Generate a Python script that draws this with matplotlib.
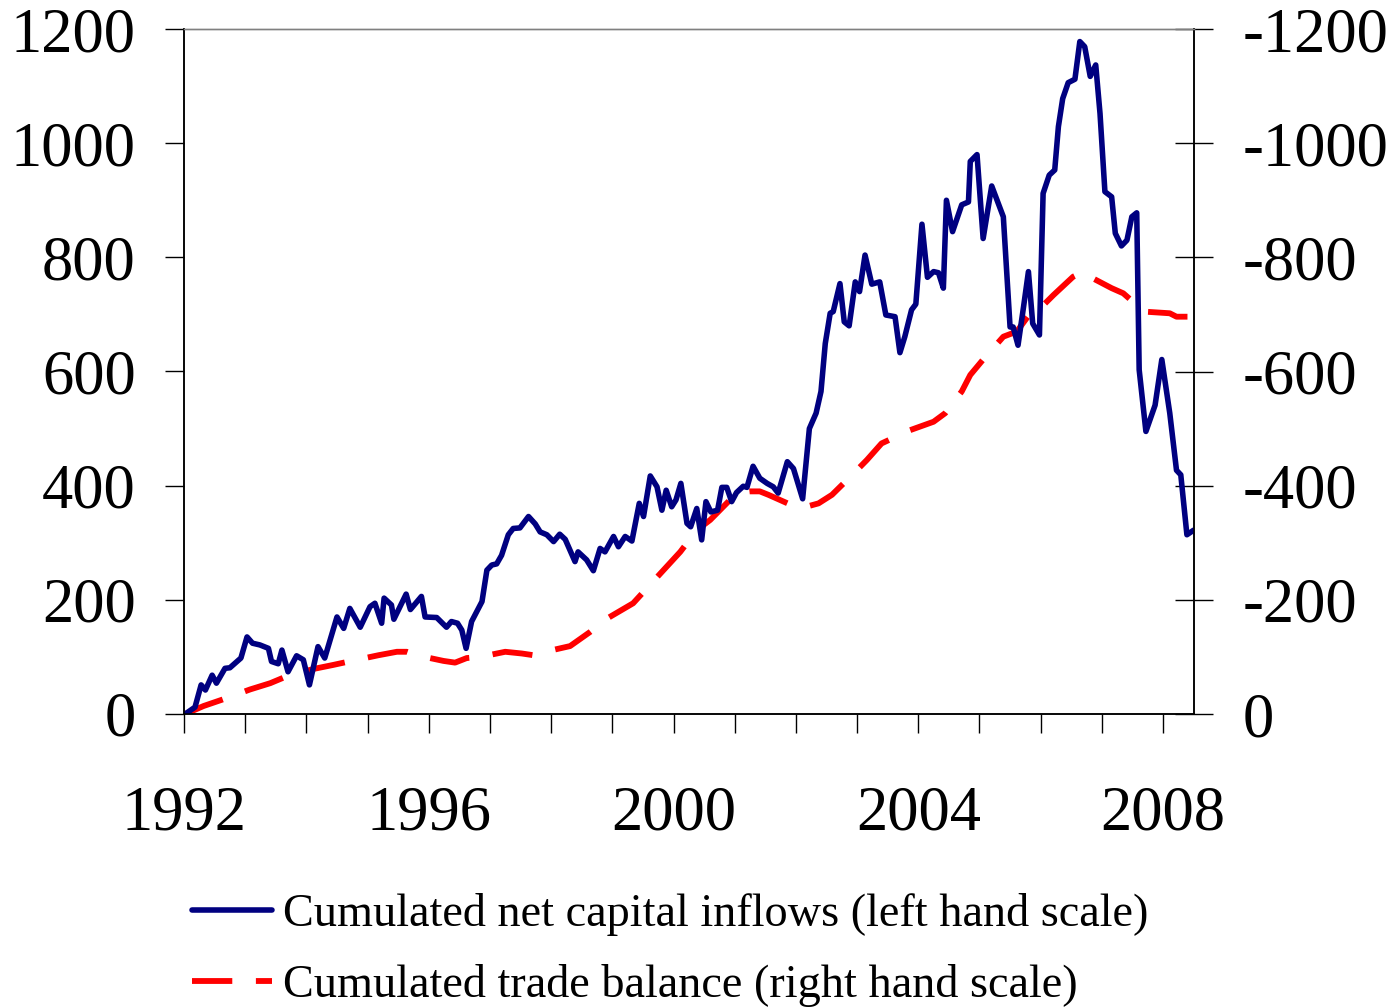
import matplotlib
matplotlib.use("Agg")
from matplotlib import pyplot as plt

plt.rcParams['font.family'] = ['Liberation Serif', 'DejaVu Serif']
plt.rcParams['axes.unicode_minus'] = False
plt.rcParams['lines.scale_dashes'] = False

# cumulated net capital inflows (left scale), decimal year / value
inflow_year = [1992.02, 1992.18, 1992.28, 1992.35, 1992.46, 1992.53, 1992.67, 1992.75, 1992.93,
               1993.03, 1993.12, 1993.24, 1993.38, 1993.43, 1993.54, 1993.60, 1993.70, 1993.84,
               1993.95, 1994.05, 1994.19, 1994.30, 1994.50, 1994.61, 1994.71, 1994.88, 1995.04,
               1995.12, 1995.23, 1995.27, 1995.39, 1995.43, 1995.63, 1995.70, 1995.88, 1995.94,
               1996.13, 1996.29, 1996.37, 1996.47, 1996.54, 1996.61, 1996.70, 1996.87, 1996.95,
               1997.03, 1997.11, 1997.19, 1997.30, 1997.38, 1997.49, 1997.63, 1997.74, 1997.82,
               1997.93, 1998.04, 1998.14, 1998.23, 1998.39, 1998.44, 1998.58, 1998.69, 1998.80,
               1998.88, 1999.02, 1999.10, 1999.21, 1999.32, 1999.44, 1999.51, 1999.62, 1999.73,
               1999.81, 1999.88, 1999.97, 2000.04, 2000.12, 2000.22, 2000.28, 2000.38, 2000.46,
               2000.53, 2000.61, 2000.72, 2000.79, 2000.87, 2000.95, 2001.03, 2001.14, 2001.20,
               2001.30, 2001.41, 2001.53, 2001.63, 2001.71, 2001.86, 2001.96, 2002.11, 2002.22,
               2002.33, 2002.41, 2002.48, 2002.56, 2002.61, 2002.72, 2002.79, 2002.87, 2002.97,
               2003.04, 2003.13, 2003.24, 2003.37, 2003.47, 2003.62, 2003.70, 2003.78, 2003.89,
               2003.96, 2004.06, 2004.15, 2004.25, 2004.33, 2004.41, 2004.46, 2004.56, 2004.71,
               2004.82, 2004.85, 2004.96, 2005.06, 2005.20, 2005.39, 2005.50, 2005.55, 2005.63,
               2005.72, 2005.80, 2005.87, 2005.98, 2006.04, 2006.14, 2006.23, 2006.29, 2006.36,
               2006.45, 2006.56, 2006.64, 2006.72, 2006.81, 2006.90, 2006.97, 2007.05, 2007.16,
               2007.22, 2007.32, 2007.41, 2007.49, 2007.57, 2007.61, 2007.72, 2007.87, 2007.98,
               2008.11, 2008.22, 2008.29, 2008.39, 2008.50]
inflow = [0, 12, 51, 42, 68, 54, 80, 81, 98,
          135, 124, 121, 115, 92, 88, 112, 74, 102,
          95, 51, 118, 98, 170, 150, 185, 152, 188,
          194, 159, 203, 191, 166, 210, 183, 206, 170,
          169, 152, 162, 159, 147, 115, 162, 197, 252,
          261, 263, 278, 314, 325, 326, 346, 333, 319,
          314, 302, 315, 306, 267, 284, 270, 251, 290,
          284, 311, 293, 311, 303, 369, 346, 417, 398,
          357, 392, 363, 375, 404, 334, 328, 360, 305,
          372, 354, 357, 397, 397, 372, 388, 399, 397,
          434, 413, 404, 398, 387, 442, 430, 377, 500,
          527, 565, 649, 702, 705, 754, 687, 680, 757,
          740, 804, 753, 757, 699, 696, 633, 661, 708,
          718, 858, 765, 775, 773, 746, 900, 845, 892,
          897, 968, 980, 833, 925, 871, 678, 678, 646,
          713, 775, 684, 664, 912, 944, 953, 1029, 1078,
          1106, 1112, 1178, 1169, 1117, 1137, 1052, 915, 906,
          842, 820, 830, 871, 878, 603, 495, 541, 621,
          527, 427, 419, 314, 322]

# cumulated trade balance (right scale, negative)
trade_year = [1992.02, 1992.32, 1992.62, 1993.08, 1993.41, 1993.70, 1994.12, 1994.44, 1994.74,
              1995.18, 1995.48, 1995.64, 1995.80, 1996.24, 1996.43, 1996.62, 1996.84, 1997.25,
              1997.52, 1997.71, 1997.90, 1998.31, 1998.64, 1998.91, 1999.34, 1999.81, 2000.11,
              2000.38, 2000.60, 2000.95, 2001.09, 2001.25, 2001.41, 2001.55, 2001.99, 2002.20,
              2002.37, 2002.59, 2002.94, 2003.16, 2003.40, 2003.86, 2004.25, 2004.44, 2004.71,
              2004.85, 2005.06, 2005.39, 2005.61, 2005.83, 2005.91, 2006.21, 2006.53, 2006.70,
              2006.75, 2007.16, 2007.35, 2007.51, 2007.68, 2008.11, 2008.22, 2008.46]
trade = [0, -14, -25, -43, -54, -67, -79, -86, -93,
         -103, -109, -109, -103, -93, -90, -98, -100, -109,
         -106, -103, -109, -119, -144, -167, -194, -249, -284,
         -322, -340, -378, -388, -390, -390, -384, -363, -364,
         -369, -384, -421, -445, -474, -497, -512, -527, -565,
         -594, -621, -661, -670, -702, -702, -734, -766, -775,
         -769, -746, -737, -722, -705, -702, -696, -696]

year_ticks = list(range(1992, 2009))
year_labels = [str(y) if y % 4 == 0 else '' for y in year_ticks]
left_ticks = [0, 200, 400, 600, 800, 1000, 1200]
right_ticks = [0, -200, -400, -600, -800, -1000, -1200]

fig = plt.figure(figsize=(13.91, 10.08), dpi=100)
ax1 = fig.add_axes([184 / 1391, 1 - 714 / 1008, 1010 / 1391, 685 / 1008])
ax2 = ax1.twinx()

l1, = ax1.plot(inflow_year, inflow, color='#000080', lw=4.0, solid_joinstyle='round',
               solid_capstyle='round')
l2, = ax2.plot(trade_year, trade, color='#ff0000', lw=4.2, dashes=(29, 17))

ax1.set_zorder(ax2.get_zorder() + 1)
ax1.patch.set_visible(False)

ax1.set_xlim(1992, 1992 + 1010 / 61.19)
ax1.set_ylim(0, 1200)
ax2.set_ylim(0, -1200)

ax1.set_xticks(year_ticks)
ax1.set_xticklabels(year_labels)
ax1.set_yticks(left_ticks)
ax1.set_yticklabels([str(v) for v in left_ticks])
ax2.set_yticks(right_ticks)
ax2.set_yticklabels([str(v) for v in right_ticks])

ax1.tick_params(axis='x', direction='out', length=13.7, width=1, pad=38, labelsize=45)
ax1.tick_params(axis='y', direction='out', length=13.7, width=1, pad=21, labelsize=45,
                right=False)
ax2.tick_params(axis='y', direction='inout', length=27.4, width=1, pad=21, labelsize=45)

for ax in (ax1, ax2):
    for side in ('left', 'right', 'bottom'):
        ax.spines[side].set_linewidth(1.1)
        ax.spines[side].set_color('black')
    ax.spines['top'].set_color('#808080')
    ax.spines['top'].set_linewidth(1.0)

fig.legend([l1, l2],
           ['Cumulated net capital inflows (left hand scale)',
            'Cumulated trade balance (right hand scale)'],
           loc='upper left', bbox_to_anchor=(192 / 1391, 1 - 893 / 1008),
           frameon=False, fontsize=33.3, handlelength=1.73, handletextpad=0.24,
           labelspacing=0.6, borderpad=0, borderaxespad=0)

fig.savefig('out.png', dpi=100)
